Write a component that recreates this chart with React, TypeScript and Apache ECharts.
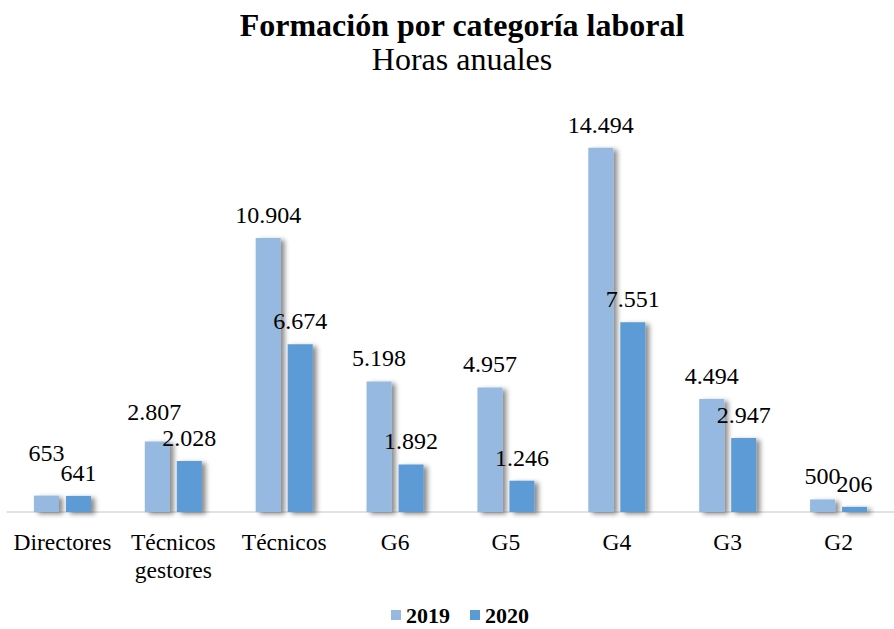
import React, { useEffect, useRef } from "react";
import * as echarts from "echarts";

const categories = ["Directores", "Técnicos\ngestores", "Técnicos", "G6", "G5", "G4", "G3", "G2"];
const values2019 = [653, 2807, 10904, 5198, 4957, 14494, 4494, 500];
const values2020 = [641, 2028, 6674, 1892, 1246, 7551, 2947, 206];
const seriesNames = ["2019", "2020"];

const FONT = "Liberation Serif";

const fmt = (v: number) => v.toString().replace(/\B(?=(\d{3})+(?!\d))/g, ".");

export default function App() {
  const ref = useRef<HTMLDivElement>(null);
  useEffect(() => {
    if (!ref.current) return;
    const chart = echarts.init(ref.current, null, { renderer: "svg" });
    const shadow = {
      shadowColor: "rgba(0,0,0,0.45)",
      shadowBlur: 5,
      shadowOffsetX: 4,
      shadowOffsetY: 2,
    };
    const labelStyle = {
      show: true,
      position: "top",
      distance: 14,
      fontFamily: FONT,
      fontSize: 24,
      lineHeight: 18,
      color: "#000",
      formatter: (p: any) => fmt(p.value),
    };
    const labelOffsets2019: Record<number, number[]> = { 0: [0, -20], 1: [-3, -6] };
    chart.setOption({
      animation: false,
      backgroundColor: "#ffffff",
      textStyle: { fontFamily: FONT },
      title: {
        text: "Formación por categoría laboral",
        subtext: "Horas anuales",
        left: 457,
        textAlign: "center",
        top: 4,
        itemGap: 2,
        textStyle: { fontFamily: FONT, fontSize: 32, fontWeight: "bold", color: "#000", lineHeight: 32 },
        subtextStyle: { fontFamily: FONT, fontSize: 32, color: "#000", lineHeight: 32 },
      },
      legend: {
        data: seriesNames,
        left: 386,
        top: 599,
        itemWidth: 10,
        itemHeight: 10,
        itemGap: 20,
        icon: "rect",
        textStyle: { fontFamily: FONT, fontSize: 22, fontWeight: "bold", color: "#000" },
      },
      grid: { left: 7, width: 901, top: 110, bottom: 117 },
      xAxis: {
        type: "category",
        data: categories,
        axisLine: { show: true, lineStyle: { color: "#D9D9D9", width: 1.5 } },
        axisTick: { show: false },
        axisLabel: {
          interval: 0,
          margin: 16,
          fontFamily: FONT,
          fontSize: 23.5,
          lineHeight: 28,
          color: "#000",
        },
      },
      yAxis: {
        type: "value",
        min: 0,
        max: 16000,
        show: false,
        splitLine: { show: false },
      },
      series: [
        {
          name: seriesNames[0],
          type: "bar",
          barWidth: 25,
          barGap: "28%",
          data: values2019.map((v, i) =>
            labelOffsets2019[i] ? { value: v, label: { offset: labelOffsets2019[i] } } : v
          ),
          itemStyle: { color: "#95B9E0", ...shadow },
          label: labelStyle,
        },
        {
          name: seriesNames[1],
          type: "bar",
          barWidth: 25,
          data: values2020,
          itemStyle: { color: "#5B9BD5", ...shadow },
          label: labelStyle,
        },
      ],
    });
    return () => chart.dispose();
  }, []);
  return (
    <div
      ref={ref}
      style={{ position: "absolute", left: 0, top: 0, width: 894, height: 629 }}
    />
  );
}
